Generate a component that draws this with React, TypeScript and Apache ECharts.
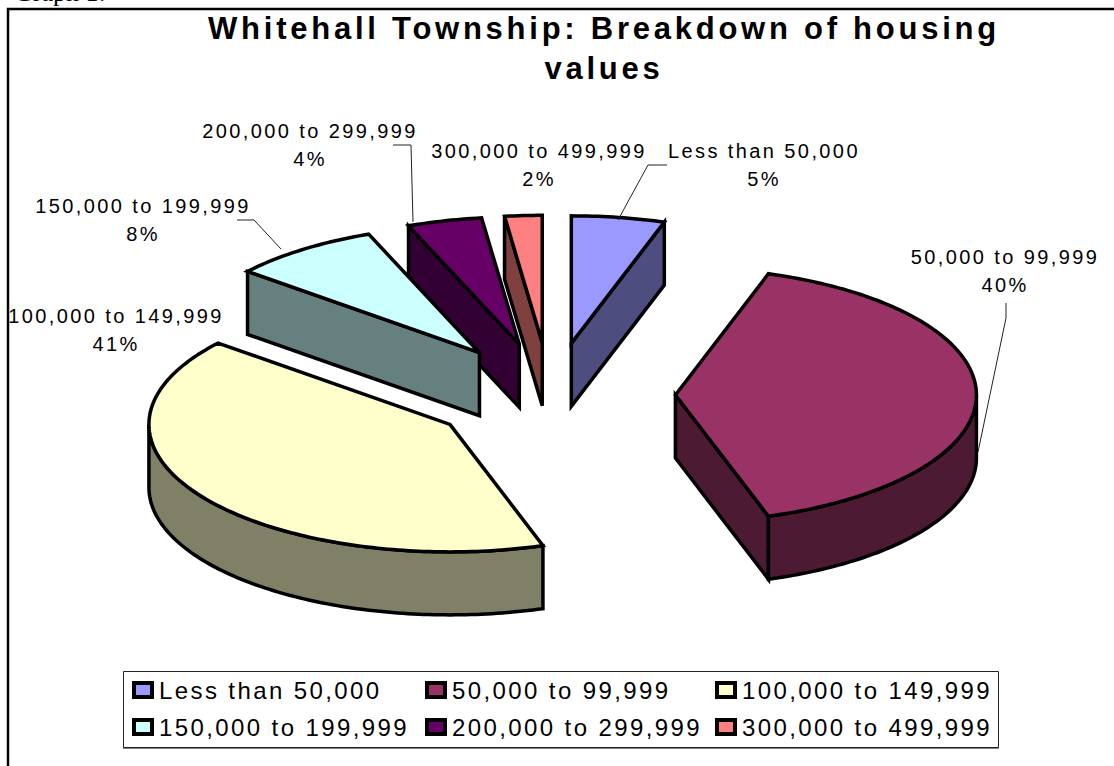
import React, { useEffect, useRef } from "react";
import * as echarts from "echarts";

const categories = [
  "Less than 50,000",
  "50,000 to 99,999",
  "100,000 to 149,999",
  "150,000 to 199,999",
  "200,000 to 299,999",
  "300,000 to 499,999",
];
const percents = [5, 40, 41, 8, 4, 2];
const topColors = ["#9999FF", "#993366", "#FFFFCC", "#CCFFFF", "#660066", "#FF8080"];
const wallColors = ["#4D4D80", "#4D1A33", "#808066", "#668080", "#330033", "#804040"];
const drawOrder = [4, 6, 5, 3, 2, 1];
const nudgeX = [0, 0, 0, 0, -2, -2];

const labelCenters = [
  [764, 165],
  [1005, 271],
  [116, 330],
  [143, 220],
  [310, 145],
  [539, 165],
];
const leaders = [
  [[667, 165], [648, 165], [618, 220]],
  [[1006, 303], [1006, 318], [978, 452]],
  [],
  [[237, 220], [254, 220], [281, 249]],
  [[393, 145], [411, 145], [413, 222]],
  [],
];
const legendCols = [132, 425, 715];
const legendRows = [678, 715];

const CX = 552;
const CY = 395;
const RX = 301;
const RY = 127.5;
const DEPTH = 63;
const EXPLODE = 0.41;
const FONT = "Liberation Sans";

const rad = (d: number) => (d * Math.PI) / 180;
const total = percents.reduce((a, b) => a + b, 0);
const startAngles = percents.map(
  (_, i) => (percents.slice(0, i).reduce((a, b) => a + b, 0) / total) * 360
);

function renderSlice(i: number) {
  return (_params: any, api: any) => {
    const a = startAngles[i];
    const b = a + (api.value(0) / total) * 360;
    const mid = rad((a + b) / 2);
    const ax = CX + nudgeX[i] + EXPLODE * RX * Math.sin(mid);
    const ay = CY - EXPLODE * RY * Math.cos(mid);
    const pt = (deg: number, dz = 0) => [
      ax + RX * Math.sin(rad(deg)),
      ay - RY * Math.cos(rad(deg)) + dz,
    ];
    const arc = (from: number, to: number, dz = 0) => {
      const out: number[][] = [];
      const n = Math.max(2, Math.ceil(Math.abs(to - from)));
      for (let k = 0; k <= n; k++) out.push(pt(from + ((to - from) * k) / n, dz));
      return out;
    };
    const stroke = { stroke: "#000", lineWidth: 3.5, lineJoin: "miter", miterLimit: 4 };
    const wallStyle = { fill: wallColors[i], ...stroke };
    const children: any[] = [];
    const radial = (deg: number) => ({
      type: "polygon",
      shape: { points: [[ax, ay], pt(deg), pt(deg, DEPTH), [ax, ay + DEPTH]] },
      style: wallStyle,
    });
    if (Math.sin(rad(a)) < -1e-6) children.push(radial(a));
    if (Math.sin(rad(b)) > 1e-6) children.push(radial(b));
    const lo = Math.max(a, 90);
    const hi = Math.min(b, 270);
    if (hi > lo) {
      children.push({
        type: "polygon",
        shape: { points: [...arc(lo, hi), ...arc(hi, lo, DEPTH)] },
        style: wallStyle,
      });
    }
    children.push({
      type: "polygon",
      shape: { points: [[ax, ay], ...arc(a, b)] },
      style: { fill: topColors[i], ...stroke },
    });
    if (leaders[i].length) {
      children.push({
        type: "polyline",
        shape: { points: leaders[i] },
        style: { fill: "none", stroke: "#222", lineWidth: 1 },
      });
    }
    children.push({
      type: "text",
      style: {
        text: `${categories[i]}\n${percents[i]}%`,
        x: labelCenters[i][0],
        y: labelCenters[i][1],
        align: "center",
        verticalAlign: "middle",
        fontFamily: FONT,
        fontSize: 20,
        lineHeight: 28,
        fill: "#000",
      },
    });
    return { type: "group", children };
  };
}

export default function App() {
  const ref = useRef<HTMLDivElement>(null);
  useEffect(() => {
    const chart = echarts.init(ref.current!, null, { renderer: "svg" });
    chart.setOption({
      animation: false,
      backgroundColor: "#fff",
      title: {
        text: "Whitehall Township: Breakdown of housing\nvalues",
        left: 599,
        top: 3,
        textAlign: "center",
        textStyle: {
          fontFamily: FONT,
          fontSize: 31,
          fontWeight: "bold",
          color: "#000",
          lineHeight: 40,
        },
      },
      legend: categories.map((name, i) => ({
        data: [name],
        left: legendCols[i % 3],
        top: legendRows[Math.floor(i / 3)],
        padding: 0,
        itemWidth: 18,
        itemHeight: 14,
        selectedMode: false,
        icon: "rect",
        itemStyle: { color: topColors[i], borderColor: "#000", borderWidth: 4 },
        textStyle: { fontFamily: FONT, fontSize: 24, color: "#000", padding: [0, 0, 0, 2] },
      })),
      graphic: [
        {
          type: "text",
          x: 14,
          y: -21,
          silent: true,
          style: { text: "Graph 1:", fontFamily: "Liberation Serif", fontSize: 26, fill: "#000" },
        },
        {
          type: "polyline",
          silent: true,
          shape: { points: [[8, 766], [8, 9], [1114, 9]] },
          style: { fill: "none", stroke: "#000", lineWidth: 2.5 },
        },
        {
          type: "rect",
          silent: true,
          z: -1,
          shape: { x: 123.5, y: 671.5, width: 875, height: 76 },
          style: { fill: "#fff", stroke: "#222", lineWidth: 1 },
        },
        {
          type: "line",
          silent: true,
          shape: { x1: 123, y1: 748.5, x2: 999, y2: 748.5 },
          style: { stroke: "#808080", lineWidth: 1 },
        },
      ],
      series: categories.map((name, i) => ({
        type: "custom",
        name,
        coordinateSystem: "none",
        z: drawOrder[i] + 2,
        itemStyle: { color: topColors[i] },
        data: [[percents[i]]],
        renderItem: renderSlice(i),
      })),
    });
    return () => chart.dispose();
  }, []);
  return (
    <>
      <style>{`
        text[style*="31px"] { letter-spacing: 3.75px; }
        text[style*="20px"] { letter-spacing: 2.4px; }
        text[style*="24px"] { letter-spacing: 2.4px; }
      `}</style>
      <div ref={ref} style={{ position: "absolute", left: 0, top: 0, width: 1114, height: 766 }} />
    </>
  );
}
